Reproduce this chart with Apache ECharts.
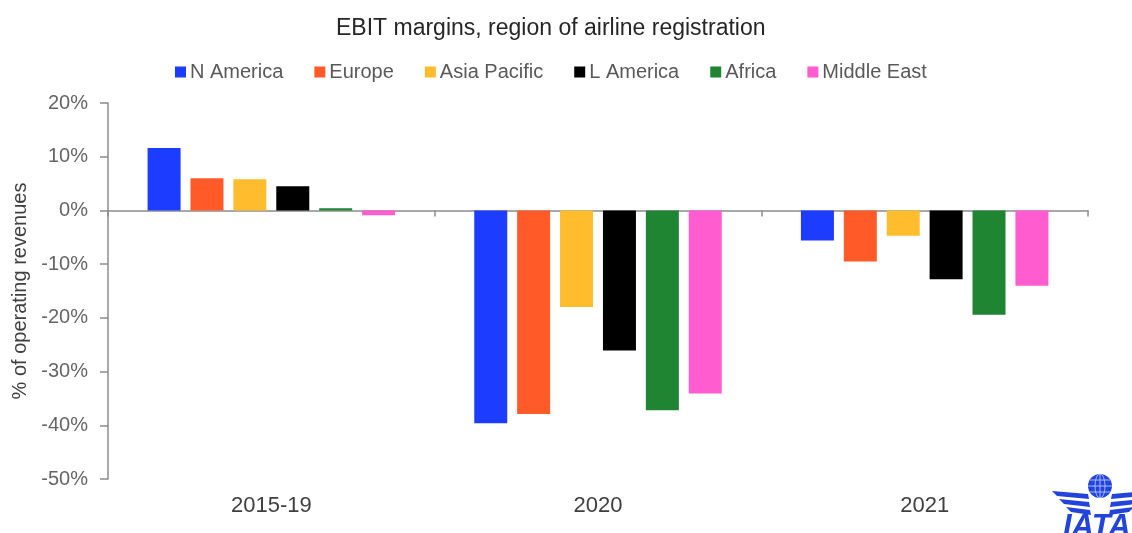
<!DOCTYPE html>
<html>
<head>
<meta charset="utf-8">
<script src="https://cdn.jsdelivr.net/npm/echarts@6/dist/echarts.min.js"></script>
<style>
  html, body { margin: 0; padding: 0; background: #ffffff; }
  #chart { width: 1132px; height: 533px; }
</style>
</head>
<body>
<div id="chart"></div>
<script>
// EBIT margin by region of airline registration, % of operating revenues
const categories = ['2015-19', '2020', '2021'];
const regionNames = ['N America', 'Europe', 'Asia Pacific', 'L America', 'Africa', 'Middle East'];
const nAmerica    = [11.6, -39.6, -5.6];
const europe      = [6.0, -37.9, -9.5];
const asiaPacific = [5.8, -18.0, -4.7];
const lAmerica    = [4.5, -26.1, -12.8];
const africa      = [0.4, -37.2, -19.4];
const middleEast  = [-0.9, -34.1, -14.0];
const yTicks = { min: -50, max: 20, step: 10 };

const regionValues = [nAmerica, europe, asiaPacific, lAmerica, africa, middleEast];
const regionColors = ['#1c3cff', '#ff5a28', '#ffbd2e', '#000000', '#1f8532', '#ff5ccf'];

const FONT = '"Liberation Sans", Arial, sans-serif';

const chart = echarts.init(document.getElementById('chart'), null, { renderer: 'canvas' });

// Logo in the lower right corner: globe, wing stripes and the lettering
const wingLeft = [
  [[1052, 491], [1088, 494], [1089, 499], [1057, 496]],
  [[1059, 499], [1089, 502], [1090, 507], [1064, 504]],
  [[1066, 507], [1090, 510], [1091, 515], [1071, 512]]
];
const logoBlue = '#2244dd';
const logoChildren = [];
wingLeft.forEach(function (pts) {
  logoChildren.push({ type: 'polygon', shape: { points: pts }, style: { fill: logoBlue } });
  logoChildren.push({
    type: 'polygon',
    shape: { points: pts.map(function (p) { return [2200 - p[0], p[1]]; }) },
    style: { fill: logoBlue }
  });
});
logoChildren.push({ type: 'circle', shape: { cx: 1100, cy: 486, r: 12 }, style: { fill: logoBlue } });
logoChildren.push({ type: 'ellipse', shape: { cx: 1100, cy: 486, rx: 5, ry: 12 }, style: { fill: 'none', stroke: '#c8d4ff', lineWidth: 0.8 } });
logoChildren.push({ type: 'line', shape: { x1: 1100, y1: 474, x2: 1100, y2: 498 }, style: { stroke: '#c8d4ff', lineWidth: 0.8 } });
[480, 486, 492].forEach(function (y) {
  const dx = Math.sqrt(144 - (y - 486) * (y - 486));
  logoChildren.push({ type: 'line', shape: { x1: 1100 - dx, y1: y, x2: 1100 + dx, y2: y }, style: { stroke: '#c8d4ff', lineWidth: 0.8 } });
});
logoChildren.push({
  type: 'text', x: 1063, y: 512,
  style: { text: 'IATA', fill: logoBlue, font: 'italic bold 31px ' + FONT, textVerticalAlign: 'top' }
});

const option = {
  backgroundColor: '#ffffff',
  animation: false,
  title: {
    text: 'EBIT margins, region of airline registration',
    left: 331,
    top: 12,
    textStyle: { fontFamily: FONT, fontSize: 23, fontWeight: 'normal', color: '#262626' }
  },
  legend: {
    data: regionNames,
    left: 170,
    top: 57,
    itemWidth: 11,
    itemHeight: 11,
    itemGap: 31,
    icon: 'rect',
    textStyle: { fontFamily: FONT, fontSize: 20, color: '#595959', padding: [0, 0, 0, -1] }
  },
  grid: { left: 108, right: 44, top: 103, bottom: 54, containLabel: false },
  xAxis: [
    {
      // category labels along the bottom of the plot
      type: 'category',
      data: categories,
      position: 'bottom',
      axisLine: { show: false, onZero: false },
      axisTick: { show: false },
      axisLabel: { fontFamily: FONT, fontSize: 22, color: '#404040', margin: 16 }
    },
    {
      // zero line with boundary ticks
      type: 'category',
      data: categories,
      position: 'bottom',
      axisLine: { show: true, onZero: true, lineStyle: { color: '#8c8c8c', width: 1.5 } },
      axisTick: { show: true, length: 6, lineStyle: { color: '#8c8c8c', width: 1.5 } },
      axisLabel: { show: false }
    }
  ],
  yAxis: {
    type: 'value',
    min: yTicks.min,
    max: yTicks.max,
    interval: yTicks.step,
    name: '% of operating revenues',
    nameLocation: 'middle',
    nameGap: 67,
    nameRotate: 90,
    nameTextStyle: { fontFamily: FONT, fontSize: 20, color: '#404040' },
    axisLine: { show: true, lineStyle: { color: '#8c8c8c', width: 1.5 } },
    axisTick: { show: true, length: 8, lineStyle: { color: '#8c8c8c', width: 1.5 } },
    splitLine: { show: false },
    axisLabel: {
      fontFamily: FONT, fontSize: 20, color: '#666666', margin: 20,
      formatter: function (v) { return v + '%'; }
    }
  },
  series: regionNames.map(function (name, i) {
    return {
      name: name,
      type: 'bar',
      xAxisIndex: 0,
      data: regionValues[i],
      barWidth: 33,
      barGap: '30%',
      itemStyle: { color: regionColors[i] }
    };
  }),
  graphic: [{ type: 'group', children: logoChildren }]
};

chart.setOption(option);
</script>
</body>
</html>
